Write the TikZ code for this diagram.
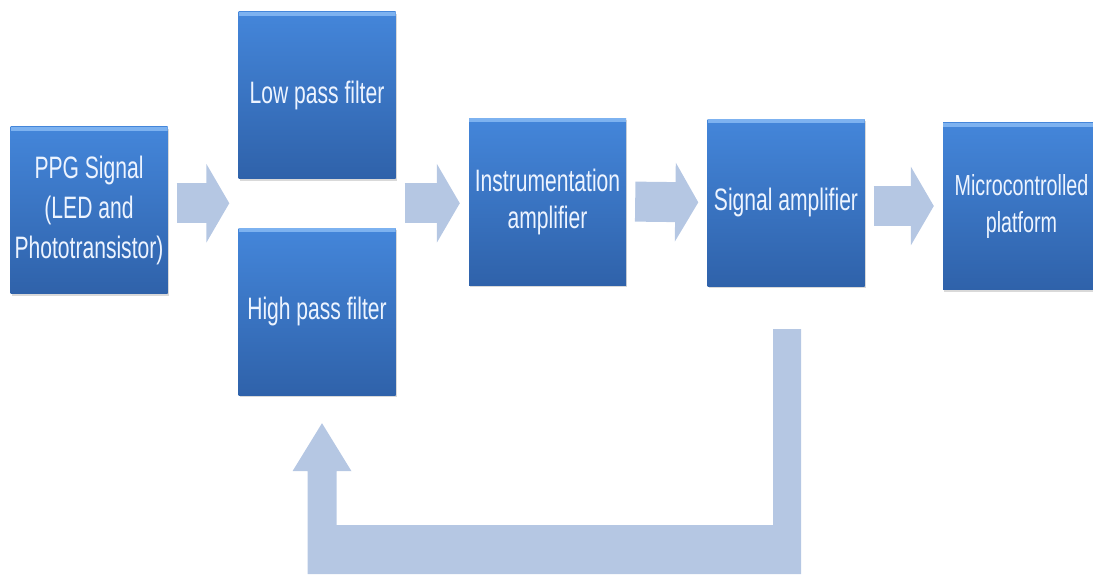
\documentclass[tikz,border=0pt]{standalone}
\usepackage{fontspec}
\setmainfont{Liberation Sans}[FakeStretch=0.68]
\usepackage{tikz}
\usetikzlibrary
  {
    calc,      % coordinate arithmetic
    arrows.meta, % block arrow heads
    shadows,   % shadow under the boxes
  }

\definecolor{boxtop}{HTML}{4486DA}
\definecolor{boxbot}{HTML}{2F62AA}
\definecolor{boxrim}{HTML}{7DB2F0}
\definecolor{flowcol}{HTML}{B5C7E3}
\definecolor{labelcol}{HTML}{EDF4FF}

\tikzset{
  block/.style={
    rectangle, minimum width=157pt, minimum height=167pt,
    top color=boxtop, bottom color=boxbot,
    text=labelcol, align=center, inner sep=2pt,
    font=\fontsize{31}{40}\selectfont,
    drop shadow={shadow xshift=1pt, shadow yshift=-2pt, opacity=0.3},
    path picture={
      \fill[boxrim] (path picture bounding box.north west)
        rectangle ([yshift=-4pt]path picture bounding box.north east);
    },
  },
  flow/.style={
    draw=flowcol, line width=40pt,
    -{Triangle[width=78pt, length=23pt]},
    shorten <=9pt, shorten >=9pt,
  },
}

\begin{document}
\begin{tikzpicture}[x=1pt, y=-1pt]
    \useasboundingbox (0,0) rectangle (1093,576);
    \clip (0,0) rectangle (1093,576);

    \node (ppg)    [block] at (89,210)     {PPG Signal\\(LED and\\Phototransistor)};
    \node (low)    [block] at (317,95)     {Low pass filter};
    \node (high)   [block] at (317,311.5)  {High pass filter};
    \node (instr)  [block, font=\fontsize{31}{37}\selectfont] at (547.5,201.5) {Instrumentation\\amplifier};
    \node (sigamp) [block] at (786,202.5)  {Signal amplifier};
    \node (micro)  [block, font=\fontsize{29}{37}\selectfont] at (1021.5,206) {Microcontrolled\\platform};

    % point between the two filters
    \coordinate (split) at ($(low.south west)!.5!(high.north west)$);

    \draw[flow] (ppg.east |- split) -- (split);
    \draw[flow] (split -| low.east) -- (instr.west |- split);
    \draw[flow] (instr.east) -- (sigamp.west);
    \draw[flow] (sigamp.east |- micro) -- (micro.west);

    % feedback from the signal amplifier back to the high pass filter
    \coordinate (fbout) at ($(sigamp.south)+(1,43)$);
    \coordinate (fbin) at ($(high.south)+(5,28)$);
    \coordinate (fbbot) at (0,549.5);
    \fill[flowcol]
      ($(fbout)+(-14,0)$) -- ($(fbout)+(14,0)$)
      -- ($(fbout|-fbbot)+(14,24.5)$) -- ($(fbin|-fbbot)+(-14.5,24.5)$)
      -- ($(fbin)+(-14.5,48)$) -- ($(fbin)+(-29.5,48)$)
      -- (fbin)
      -- ($(fbin)+(29.5,48)$) -- ($(fbin)+(14.5,48)$)
      -- ($(fbin|-fbbot)+(14.5,-24.5)$) -- ($(fbout|-fbbot)+(-14,-24.5)$)
      -- cycle;
\end{tikzpicture}
\end{document}
